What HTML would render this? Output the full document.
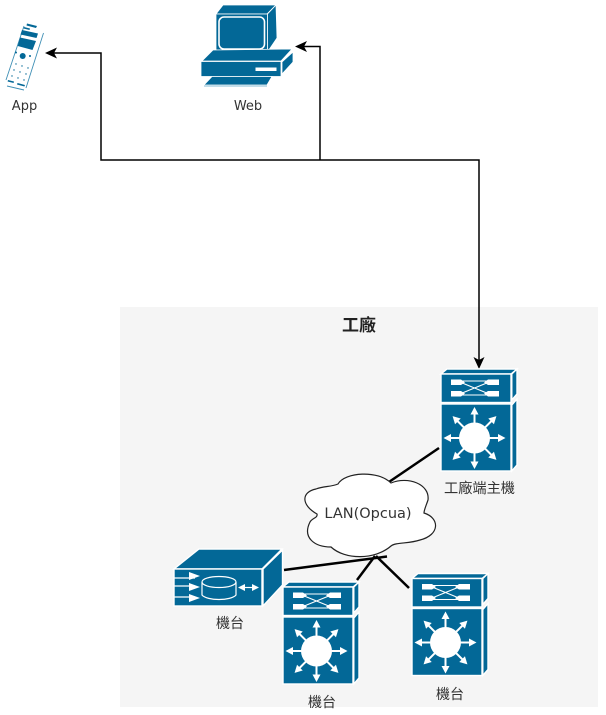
<!DOCTYPE html>
<html>
<head>
<meta charset="utf-8">
<style>
html,body{margin:0;padding:0;background:#fff;width:606px;height:715px;overflow:hidden}
svg{display:block;filter:blur(.35px)}
text{font-family:"DejaVu Sans","Noto Sans CJK TC",sans-serif;fill:#333;text-anchor:middle}
</style>
</head>
<body>
<svg width="606" height="715" viewBox="0 0 606 715" xmlns="http://www.w3.org/2000/svg">
<defs>
<g id="arr">
<line x1="13" y1="0" x2="26" y2="0" stroke="#fff" stroke-width="2"/>
<polygon points="31,0 23.500,-4 23.500,4" fill="#fff"/>
</g>
<g id="sw">
<g fill="#036897" stroke="#fff" stroke-width="1.400">
<polygon points="0,5 6,0 76,0 70,5"/>
<rect x="0" y="5" width="70" height="28.500"/>
<polygon points="70.800,5 76,0 76,25 70.800,31"/>
<rect x="0" y="35" width="70" height="67"/>
<polygon points="70.800,36 76,30 76,96 70.800,102"/>
</g>
<g fill="#fff">
<polygon points="10,10.500 20,10.500 24,13.500 20,16 10,16"/>
<polygon points="10,22 20,22 24,24.500 20,27.500 10,27.500"/>
<polygon points="58,10.500 47,10.500 43,13.500 47,16 58,16"/>
<polygon points="58,22 47,22 43,24.500 47,27.500 58,27.500"/>
</g>
<g stroke="#fff" stroke-width="1.100" fill="none">
<line x1="20" y1="13.500" x2="47" y2="24.500"/>
<line x1="20" y1="24.500" x2="47" y2="13.500"/>
<line x1="20" y1="12" x2="47" y2="12"/>
<line x1="20" y1="26" x2="47" y2="26"/>
</g>
<g transform="translate(33.500,69)">
<circle r="15.500" fill="#fff"/>
<use href="#arr"/>
<use href="#arr" transform="rotate(45)"/>
<use href="#arr" transform="rotate(90)"/>
<use href="#arr" transform="rotate(135)"/>
<use href="#arr" transform="rotate(180)"/>
<use href="#arr" transform="rotate(225)"/>
<use href="#arr" transform="rotate(270)"/>
<use href="#arr" transform="rotate(315)"/>
</g>
</g>
</defs>

<rect x="120" y="307" width="478" height="400" fill="#f5f5f5"/>

<!-- connectors -->
<g fill="none" stroke="#000" stroke-width="1.500">
<polyline points="52,53 101,53 101,160 479,160 479,362"/>
<polyline points="320,160 320,46.500 302,46.500"/>
</g>
<polygon points="45,53 57,47.500 54,53 57,58.500" fill="#000"/>
<polygon points="295,46.500 307,41 304,46.500 307,52" fill="#000"/>
<polygon points="479,369 473.500,357 479,360 484.500,357" fill="#000"/>

<!-- phone -->
<g>
<g stroke="#3f8fb5" stroke-width="0.900" fill="none">
<line x1="43.500" y1="33" x2="26" y2="88"/>
<line x1="24" y1="26" x2="6" y2="80"/>
<line x1="7" y1="86" x2="24" y2="90"/>
</g>
<g fill="#036897">
<polygon points="27,23.500 37,26 36,28 26.500,25.500"/>
<polygon points="24,27 30,28.500 29.500,30 23.500,28.500"/>
<polygon points="22,30 38,33.500 36.500,38 20.500,34.500"/>
<polygon points="20,37.500 36,41 32.500,50 17.700,46"/>
<circle cx="22.700" cy="56" r="3"/>
<polygon points="8,80 14,81.500 13.600,83 7.600,81.500"/>
<polygon points="17.500,83 25,85 24.400,86.500 17,84.500"/>
<circle cx="16" cy="52.500" r="1"/>
<circle cx="30" cy="56" r="1"/>
<circle cx="14" cy="70" r=".7"/><circle cx="20" cy="72" r=".7"/><circle cx="26" cy="74" r=".7"/>
<circle cx="16" cy="64" r=".7"/><circle cx="22" cy="66" r=".7"/><circle cx="28" cy="68" r=".7"/>
<circle cx="12" cy="76" r=".7"/><circle cx="18" cy="78" r=".7"/><circle cx="24" cy="80" r=".7"/>
</g>
</g>
<text x="24.500" y="110" font-size="13">App</text>

<!-- computer -->
<g fill="#036897" stroke="#fff" stroke-width="0.800">
<polygon points="216,14 223,5 276,5 267,14"/>
<rect x="216" y="14" width="51.500" height="38"/>
<polygon points="267.500,14 276,5 277,38 267.500,52"/>
<polygon points="202,61 213,50 292,49 281,61"/>
<rect x="201" y="61.500" width="80" height="15"/>
<polygon points="282,62 293,52 293,62 282,74"/>
<polygon points="212,76.500 272,76.500 267,85 204,85"/>
</g>
<rect x="219" y="17" width="45.500" height="32" rx="5" fill="none" stroke="#fff" stroke-width="1.600"/>
<rect x="255.500" y="67.500" width="21" height="3.500" fill="#fff"/>
<line x1="204" y1="86" x2="267" y2="86" stroke="#5fa5c5" stroke-width=".8"/>
<text x="248" y="110" font-size="13">Web</text>

<!-- links -->
<g stroke="#000" stroke-width="2.500" fill="none">
<line x1="439" y1="448" x2="386" y2="484"/>
<line x1="284" y1="570" x2="387" y2="556.500"/>
<line x1="357" y1="580" x2="375" y2="556"/>
<line x1="409" y1="588" x2="376" y2="556"/>
</g>

<!-- cloud -->
<path d="M338,484 C345,472 378,470 391,483 C408,476 430,484 428,500 C426,506 424,510 424,513 C440,518 440,535 420,540 C408,544 396,542 391,546 C375,560 345,560 331,547 C315,547 302,538 310,522 C312,518 318,518 317,514 C301,505 301,492 316,489 C324,486 331,487 338,484 Z" fill="#fff" stroke="#222" stroke-width="1.200"/>
<text x="368" y="518" font-size="14.500">LAN(Opcua)</text>

<!-- switches -->
<use href="#sw" transform="translate(441,369)"/>
<use href="#sw" transform="translate(283,582)"/>
<use href="#sw" transform="translate(412,573.500)"/>

<!-- server -->
<g fill="#036897" stroke="#fff" stroke-width="1.400">
<polygon points="174,569 199,549 282,549 262,569"/>
<rect x="174" y="569" width="88" height="37"/>
<polygon points="263,569 282.500,550 282.500,585 263,606"/>
</g>
<g stroke="#fff" fill="none" stroke-width="1.200">
<line x1="174" y1="578" x2="195" y2="578"/>
<line x1="174" y1="586" x2="195" y2="586"/>
<line x1="174" y1="597" x2="195" y2="597"/>
<ellipse cx="219" cy="582" rx="17" ry="5.500"/>
<path d="M202,582 V595 C207,601 231,601 236,595 V582"/>
<line x1="242" y1="587.500" x2="255" y2="587.500"/>
</g>
<g fill="#fff">
<polygon points="189,572 200,576 189,580"/>
<polygon points="189,583 200,587 189,591"/>
<polygon points="189,594 200,598 189,602"/>
<polygon points="238,587.500 245,584 245,591"/>
<polygon points="259,587.500 252,584 252,591"/>
</g>

<!-- labels -->
<text x="359" y="331" font-size="17" font-weight="bold" style="fill:#222">工廠</text>
<text x="479.500" y="493" font-size="14.200">工廠端主機</text>
<text x="230" y="628" font-size="14">機台</text>
<text x="322" y="707" font-size="14">機台</text>
<text x="450" y="699" font-size="14">機台</text>
</svg>
</body>
</html>
